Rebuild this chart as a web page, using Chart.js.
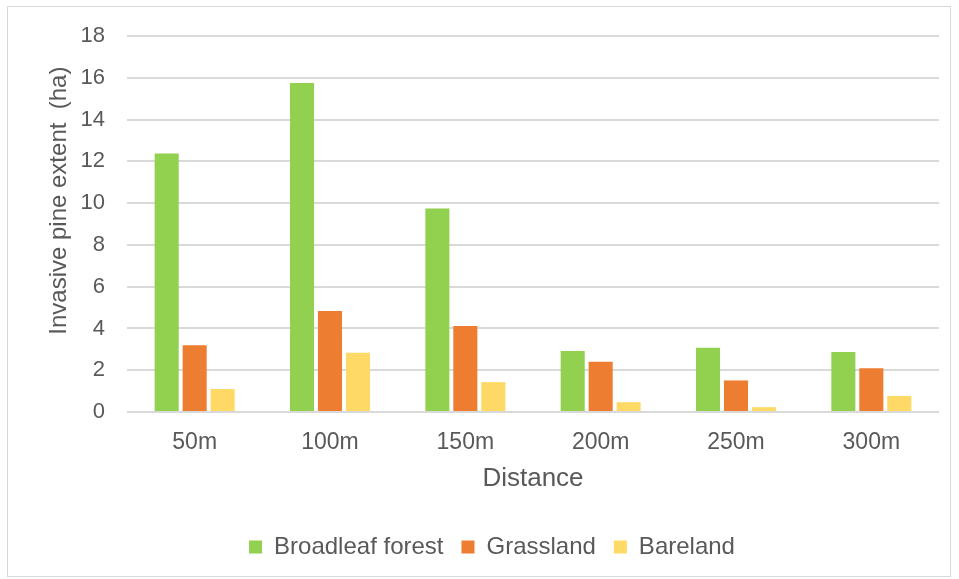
<!DOCTYPE html>
<html lang="en">
<head>
  <meta charset="UTF-8">
  <title>Invasive pine extent by distance</title>
  <script src="https://cdn.jsdelivr.net/npm/chart.js"></script>
  <style>
    html, body { margin: 0; padding: 0; background: #fff; }
    #frame {
      position: absolute; left: 7px; top: 6px;
      width: 942px; height: 569px;
      border: 1px solid #d9d9d9;
    }
    #wrap { position: absolute; left: 0; top: 0; width: 959px; height: 579px; }
  </style>
</head>
<body>
  <div id="frame"></div>
  <div id="wrap"><canvas id="pineChart"></canvas></div>

  <script>
    // distance classes and pine extent (ha) per land cover
    const distances = ['50m', '100m', '150m', '200m', '250m', '300m'];
    const broadleafForest = [12.37, 15.75, 9.74, 2.92, 3.08, 2.87];
    const grassland = [3.2, 4.83, 4.12, 2.4, 1.51, 2.09];
    const bareland = [1.1, 2.84, 1.43, 0.47, 0.23, 0.77];
    const yTicks = [0, 2, 4, 6, 8, 10, 12, 14, 16, 18];

    const textGrey = '#595959';
    const font = 'Liberation Sans, Arial, sans-serif';

    const ctx = document.getElementById('pineChart').getContext('2d');

    new Chart(ctx, {
      type: 'bar',
      data: {
        labels: distances,
        datasets: [
          { label: 'Broadleaf forest', data: broadleafForest, backgroundColor: '#92d050' },
          { label: 'Grassland', data: grassland, backgroundColor: '#ed7d31' },
          { label: 'Bareland', data: bareland, backgroundColor: '#ffd966' }
        ]
      },
      options: {
        responsive: true,
        maintainAspectRatio: false,
        animation: false,
        datasets: {
          bar: { categoryPercentage: 0.62, barPercentage: 0.86 }
        },
        layout: { padding: { left: 45, right: 20, top: 36, bottom: 10 } },
        plugins: {
          legend: {
            position: 'bottom',
            labels: {
              color: textGrey,
              font: { family: font, size: 24 },
              boxWidth: 13, boxHeight: 13,
              padding: 18
            }
          },
          tooltip: { enabled: false }
        },
        scales: {
          x: {
            grid: { display: false, drawTicks: false },
            border: { display: false },
            ticks: { color: textGrey, font: { family: font, size: 23 }, padding: 17 },
            title: {
              display: true, text: 'Distance', color: textGrey,
              font: { family: font, size: 26 },
              padding: { top: 0, bottom: 23 }
            },
            afterFit: axis => { axis.height = 105; }
          },
          y: {
            min: 0, max: 18,
            afterBuildTicks: axis => { axis.ticks = yTicks.map(v => ({ value: v })); },
            grid: { color: '#d9d9d9', lineWidth: 2, drawTicks: false },
            border: { display: false },
            ticks: { color: textGrey, font: { family: font, size: 22 }, padding: 22 },
            title: {
              display: true, color: textGrey,
              // leading spaces push the title up, as in the original
              text: '       Invasive pine extent  (ha)',
              font: { family: font, size: 24 },
              padding: { top: 0, bottom: 0 }
            },
            afterFit: axis => { axis.width = 82; }
          }
        }
      }
    });
  </script>
</body>
</html>
